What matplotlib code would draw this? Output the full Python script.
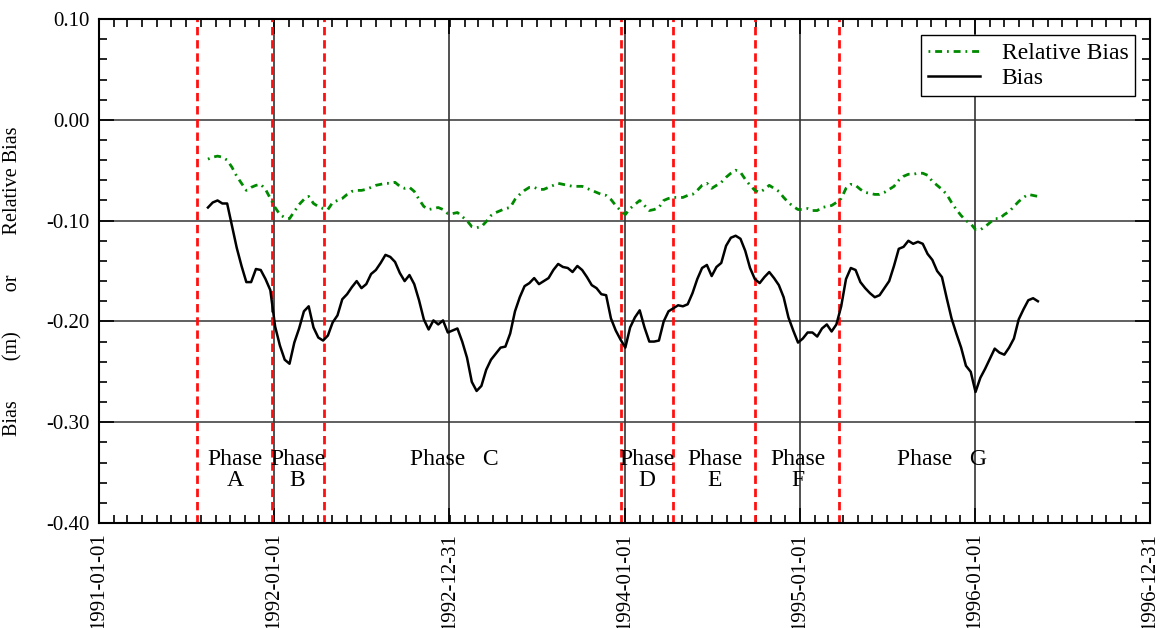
import numpy as np
import pandas as pd
import matplotlib
import matplotlib.pyplot as plt
import matplotlib.dates as mdates
from matplotlib.ticker import MultipleLocator, FormatStrFormatter

matplotlib.use("Agg")

plt.rcParams['font.family'] = ['Liberation Serif', 'DejaVu Serif']
plt.rcParams['axes.unicode_minus'] = False
plt.rcParams['lines.scale_dashes'] = False

# 10-day sampled bias series (m) and relative bias
start_date = '1991-08-16'
bias = [
    -0.087, -0.082, -0.080, -0.083, -0.083, -0.105, -0.127, -0.145, -0.161, -0.161,
    -0.148, -0.149, -0.158, -0.169, -0.205, -0.224, -0.238, -0.242, -0.221, -0.207,
    -0.190, -0.185, -0.206, -0.216, -0.219, -0.214, -0.201, -0.194, -0.178, -0.173,
    -0.166, -0.160, -0.167, -0.163, -0.153, -0.149, -0.142, -0.134, -0.136, -0.141,
    -0.152, -0.160, -0.154, -0.163, -0.179, -0.198, -0.208, -0.199, -0.203, -0.199,
    -0.211, -0.209, -0.207, -0.220, -0.236, -0.260, -0.269, -0.264, -0.248, -0.238,
    -0.232, -0.226, -0.225, -0.212, -0.190, -0.176, -0.165, -0.162, -0.157, -0.163,
    -0.160, -0.157, -0.149, -0.143, -0.146, -0.147, -0.151, -0.145, -0.149, -0.156,
    -0.164, -0.167, -0.173, -0.174, -0.197, -0.209, -0.218, -0.226, -0.206, -0.196,
    -0.189, -0.206, -0.220, -0.220, -0.219, -0.200, -0.190, -0.187, -0.184, -0.185,
    -0.183, -0.172, -0.158, -0.147, -0.144, -0.155, -0.146, -0.142, -0.125, -0.117,
    -0.115, -0.118, -0.130, -0.147, -0.158, -0.162, -0.156, -0.151, -0.157, -0.164,
    -0.176, -0.196, -0.209, -0.221, -0.217, -0.211, -0.211, -0.215, -0.207, -0.203,
    -0.210, -0.203, -0.185, -0.158, -0.147, -0.149, -0.161, -0.167, -0.172, -0.176,
    -0.174, -0.167, -0.160, -0.145, -0.128, -0.126, -0.120, -0.123, -0.121, -0.123,
    -0.133, -0.139, -0.150, -0.156, -0.177, -0.197, -0.212, -0.226, -0.244, -0.250,
    -0.270, -0.256, -0.247, -0.237, -0.227, -0.231, -0.233, -0.226, -0.217, -0.198,
    -0.188, -0.179, -0.177, -0.180,
]
rel_bias = [
    -0.039, -0.037, -0.036, -0.037, -0.040, -0.047, -0.056, -0.063, -0.070, -0.067,
    -0.065, -0.064, -0.069, -0.078, -0.087, -0.094, -0.097, -0.098, -0.091, -0.084,
    -0.079, -0.076, -0.083, -0.086, -0.088, -0.089, -0.082, -0.080, -0.078, -0.074,
    -0.071, -0.070, -0.070, -0.069, -0.067, -0.065, -0.064, -0.063, -0.063, -0.062,
    -0.066, -0.068, -0.067, -0.071, -0.079, -0.086, -0.089, -0.088, -0.087, -0.089,
    -0.093, -0.093, -0.092, -0.096, -0.100, -0.106, -0.107, -0.106, -0.101, -0.095,
    -0.092, -0.090, -0.088, -0.087, -0.079, -0.074, -0.070, -0.067, -0.067, -0.069,
    -0.069, -0.067, -0.065, -0.063, -0.064, -0.065, -0.066, -0.066, -0.066, -0.068,
    -0.070, -0.072, -0.074, -0.075, -0.079, -0.085, -0.090, -0.094, -0.088, -0.084,
    -0.080, -0.085, -0.090, -0.089, -0.087, -0.080, -0.078, -0.077, -0.077, -0.077,
    -0.075, -0.074, -0.070, -0.065, -0.063, -0.068, -0.065, -0.062, -0.057, -0.053,
    -0.050, -0.052, -0.059, -0.065, -0.070, -0.072, -0.069, -0.065, -0.068, -0.071,
    -0.077, -0.082, -0.086, -0.089, -0.089, -0.088, -0.090, -0.090, -0.087, -0.086,
    -0.085, -0.082, -0.078, -0.068, -0.064, -0.065, -0.069, -0.072, -0.073, -0.074,
    -0.074, -0.072, -0.069, -0.066, -0.060, -0.056, -0.054, -0.054, -0.053, -0.053,
    -0.055, -0.061, -0.065, -0.069, -0.074, -0.082, -0.089, -0.095, -0.100, -0.103,
    -0.109, -0.109, -0.106, -0.102, -0.098, -0.098, -0.094, -0.091, -0.086, -0.081,
    -0.077, -0.074, -0.075, -0.076,
]
dates = pd.date_range(start_date, periods=len(bias), freq='10D')

# phase boundaries and labels
phase_bounds = ['1991-07-25', '1991-12-28', '1992-04-14', '1993-12-25',
                '1994-04-12', '1994-09-29', '1995-03-23']
phase_labels = ['Phase\nA', 'Phase\nB', 'Phase   C', 'Phase\nD',
                'Phase\nE', 'Phase\nF', 'Phase   G']
phase_label_dates = ['1991-10-11', '1992-02-19', '1993-01-10', '1994-02-16',
                     '1994-07-07', '1994-12-27', '1995-10-25']

x_ticks = ['1991-01-01', '1992-01-01', '1992-12-31', '1994-01-01',
           '1995-01-01', '1996-01-01', '1996-12-31']

fig = plt.figure(figsize=(11.64, 6.28), dpi=100)
ax = fig.add_axes([0.0851, 0.1672, 0.903, 0.8025])

# grid
for v in np.arange(-0.3, 0.1, 0.1):
    ax.axhline(v, color='#444444', lw=1.2, zorder=1)
for d in x_ticks[1:-1]:
    ax.axvline(pd.Timestamp(d), color='#333333', lw=1.2, zorder=1)

for d in phase_bounds:
    ax.axvline(pd.Timestamp(d), color='#ff1010', lw=2.0,
               linestyle=(0, (6, 3.5)), zorder=2)

ax.plot(dates, rel_bias, color='#008a00', lw=2.0,
        linestyle=(0, (1.3, 3.5, 5, 3.5)), label='Relative Bias', zorder=3)
ax.plot(dates, bias, color='black', lw=1.8, label='Bias', zorder=3)

for d, txt in zip(phase_label_dates, phase_labels):
    ax.text(pd.Timestamp(d), -0.327, txt, ha='center', va='top',
            fontsize=17, linespacing=0.98, zorder=4)

ax.set_xlim(pd.Timestamp('1991-01-01'), pd.Timestamp('1996-12-31'))
ax.set_ylim(-0.40, 0.10)

ax.set_xticks([pd.Timestamp(d) for d in x_ticks])
ax.set_xticklabels(x_ticks, rotation=90, fontsize=15)
ax.xaxis.set_minor_locator(mdates.MonthLocator())
ax.yaxis.set_major_locator(MultipleLocator(0.1))
ax.yaxis.set_minor_locator(MultipleLocator(0.02))
ax.yaxis.set_major_formatter(FormatStrFormatter('%.2f'))

ax.tick_params(which='both', direction='in', top=True, right=True, width=1.2)
ax.tick_params(which='major', length=11, pad=7)
ax.tick_params(which='minor', length=5.5)
ax.tick_params(axis='y', labelsize=15)
for s in ax.spines.values():
    s.set_linewidth(1.5)

ax.set_ylabel('Bias        (m)        or        Relative Bias', fontsize=14.5)
ax.yaxis.set_label_coords(-0.073, 0.48)

leg = ax.legend(loc='upper right', bbox_to_anchor=(0.986, 0.968),
                borderaxespad=0, fontsize=17, fancybox=False, framealpha=1,
                edgecolor='black', handlelength=2.2, borderpad=0.3,
                labelspacing=0.15, handletextpad=0.9)
leg.get_frame().set_linewidth(1.0)

fig.savefig('out.png', dpi=100)
